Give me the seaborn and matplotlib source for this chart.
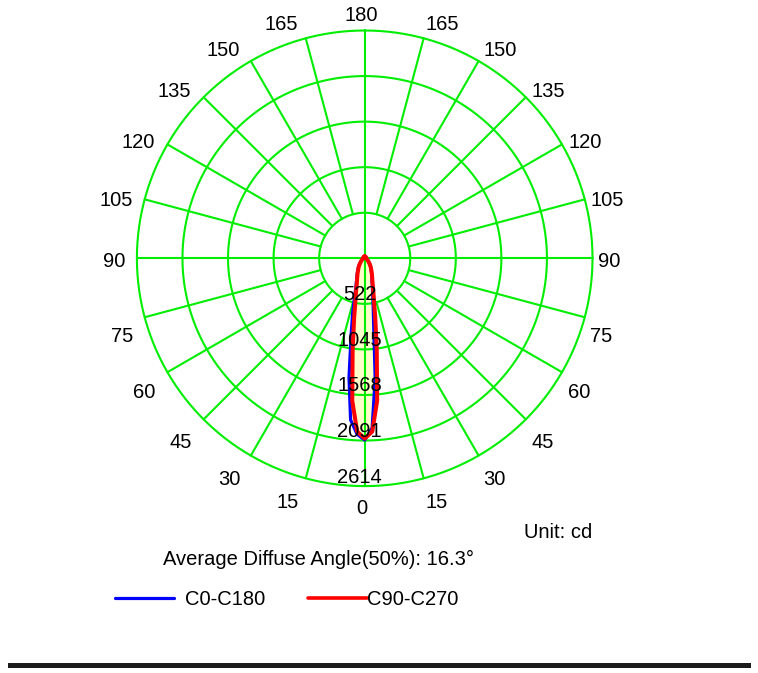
import numpy as np
import pandas as pd
import matplotlib
matplotlib.use("Agg")
import matplotlib.pyplot as plt
import seaborn as sns
from matplotlib.lines import Line2D
from matplotlib.patches import Rectangle
from matplotlib.transforms import offset_copy

# ---------------- data ----------------
gamma_deg = [0, 2.5, 5, 7.5, 10, 12.5, 15, 17.5, 20, 25, 30, 35, 40, 45, 50, 55, 60,
             65, 70, 75, 80, 85, 90, 95, 100, 105, 110, 115, 120, 125, 130, 135, 140,
             145, 150, 155, 160, 165, 170, 175, 180]

tail = [18, 18, 18, 18, 18, 19, 19, 19, 20, 20, 20, 21, 21, 21, 22, 22, 22, 22]

c0 = [2085, 1950, 1380, 790, 560, 420, 340, 280, 240, 185, 145, 115, 90, 68, 54, 43, 35,
      29, 25, 22, 20, 19, 18] + tail
c180 = [2085, 2020, 1860, 1380, 900, 640, 440, 330, 275, 205, 160, 125, 95, 72, 56, 45, 37,
        31, 26, 23, 21, 19, 18] + tail
c90 = [2068, 1990, 1640, 1060, 700, 489, 380, 300, 255, 195, 150, 120, 92, 70, 55, 44, 36,
       30, 26, 23, 21, 19, 18] + tail
c270 = list(c90)

planes = ["C0-C180", "C90-C270"]
plane_colors = ["#0000FF", "#FF0000"]
ring_labels = ["522", "1045", "1568", "2091", "2614"]
R_MAX = 2614
angle_ticks = list(range(0, 360, 15))
unit_text = "Unit: cd"
angle_text = "Average Diffuse Angle(50%): 16.3°"

# ---------------- style ----------------
sns.set_style("white")
plt.rcParams["font.family"] = ["Liberation Sans", "DejaVu Sans"]
plt.rcParams["text.color"] = "black"
FS = 14.5
GREEN = "#00EE00"

W, H = 758, 673
fig = plt.figure(figsize=(W / 100, H / 100), dpi=100)
fig.patch.set_facecolor("white")

CX, CY, RPX = 364.7, 258.3, 227.8
ax = fig.add_axes([(CX - RPX) / W, 1 - (CY + RPX) / H, 2 * RPX / W, 2 * RPX / H],
                  projection="polar")
ax.set_theta_zero_location("S")
ax.set_theta_direction(1)

# ---------------- build curve table ----------------
g = np.deg2rad(gamma_deg)
rows = []
for plane, left, right in [(planes[0], c180, c0), (planes[1], c270, c90)]:
    th = np.concatenate([-g[::-1], g[1:]])
    vals = np.concatenate([np.array(left, float)[::-1], np.array(right, float)[1:]])
    rows.append(pd.DataFrame({"theta": th, "cd": vals, "plane": plane}))
df = pd.concat(rows, ignore_index=True)

# fill
for plane in planes:
    sub = df[df.plane == plane]
    ax.fill(sub.theta, sub.cd, color="#FFFFCC", lw=0, zorder=1)

# grid
ring_vals = [R_MAX * (k + 1) / len(ring_labels) for k in range(len(ring_labels))]
circ = np.linspace(0, 2 * np.pi, 721)
for rv in ring_vals:
    ax.plot(circ, np.full_like(circ, rv), color=GREEN, lw=1.5, zorder=2, clip_on=False)
for a in angle_ticks:
    r0 = 0 if a % 90 == 0 else ring_vals[0]
    t = np.deg2rad(a)
    ax.plot([t, t], [r0, R_MAX], color=GREEN, lw=1.5, zorder=2, clip_on=False)

# curves
for plane, col, lw in zip(planes, plane_colors, [2.3, 2.9]):
    sub = df[df.plane == plane]
    sns.lineplot(data=sub, x="theta", y="cd", sort=False, estimator=None,
                 color=col, lw=lw, zorder=4, ax=ax, legend=False)

ax.set_ylim(0, R_MAX)
ax.set_axis_off()

# angle labels
for a in angle_ticks:
    lab = str(a if a <= 180 else 360 - a)
    t = np.deg2rad(a)
    s = np.sin(t)
    a_b = min(a, 360 - a)            # angle measured from the bottom
    rpx = 245.5 - 9.5 * s ** 2
    if a_b < 90:
        down = 3 + 12 * np.sin(np.deg2rad(a_b))
    else:
        down = 1
    if s > 1e-6:
        ha = "left"
    elif s < -1e-6:
        ha = "right"
    else:
        ha = "center"
    tr = offset_copy(ax.transData, fig=fig, x=-3, y=-down, units="dots")
    ax.text(t, rpx / RPX * R_MAX, lab, transform=tr, ha=ha, va="center_baseline",
            fontsize=FS, color="black", clip_on=False, zorder=6)

# ring labels
ring_tr = offset_copy(ax.transData, fig=fig, x=-5, y=3.5, units="dots")
for rv, lab in zip(ring_vals, ring_labels):
    ax.text(0, rv, lab, transform=ring_tr, ha="center", va="baseline",
            fontsize=FS, color="black", clip_on=False, zorder=6)

# texts
fig.text(524 / W, 1 - 537.7 / H, unit_text, ha="left", va="baseline", fontsize=FS,
         color="black")
fig.text(163.3 / W, 1 - 565 / H, angle_text, ha="left", va="baseline", fontsize=FS,
         color="black")

# legends
FS_PX = FS * 100 / 72
for plane, col, lw, x0, pad in [(planes[0], plane_colors[0], 2.3, 115, 11),
                                (planes[1], plane_colors[1], 2.6, 308, 0)]:
    hnd = Line2D([], [], color=col, lw=lw)
    leg = fig.legend([hnd], [plane], loc="center left",
                     bbox_to_anchor=(x0 / W, 1 - 599.5 / H), frameon=False,
                     borderpad=0, borderaxespad=0, handlelength=59 / FS_PX,
                     handletextpad=pad / FS_PX, fontsize=FS)
    for txt in leg.get_texts():
        txt.set_color("black")

# bottom bar
fig.add_artist(Rectangle((8 / W, 1 - 668.3 / H), (751 - 8) / W, 5 / H,
                         transform=fig.transFigure, color="#1c1c1c", lw=0))

fig.savefig("out.png", dpi=100)
